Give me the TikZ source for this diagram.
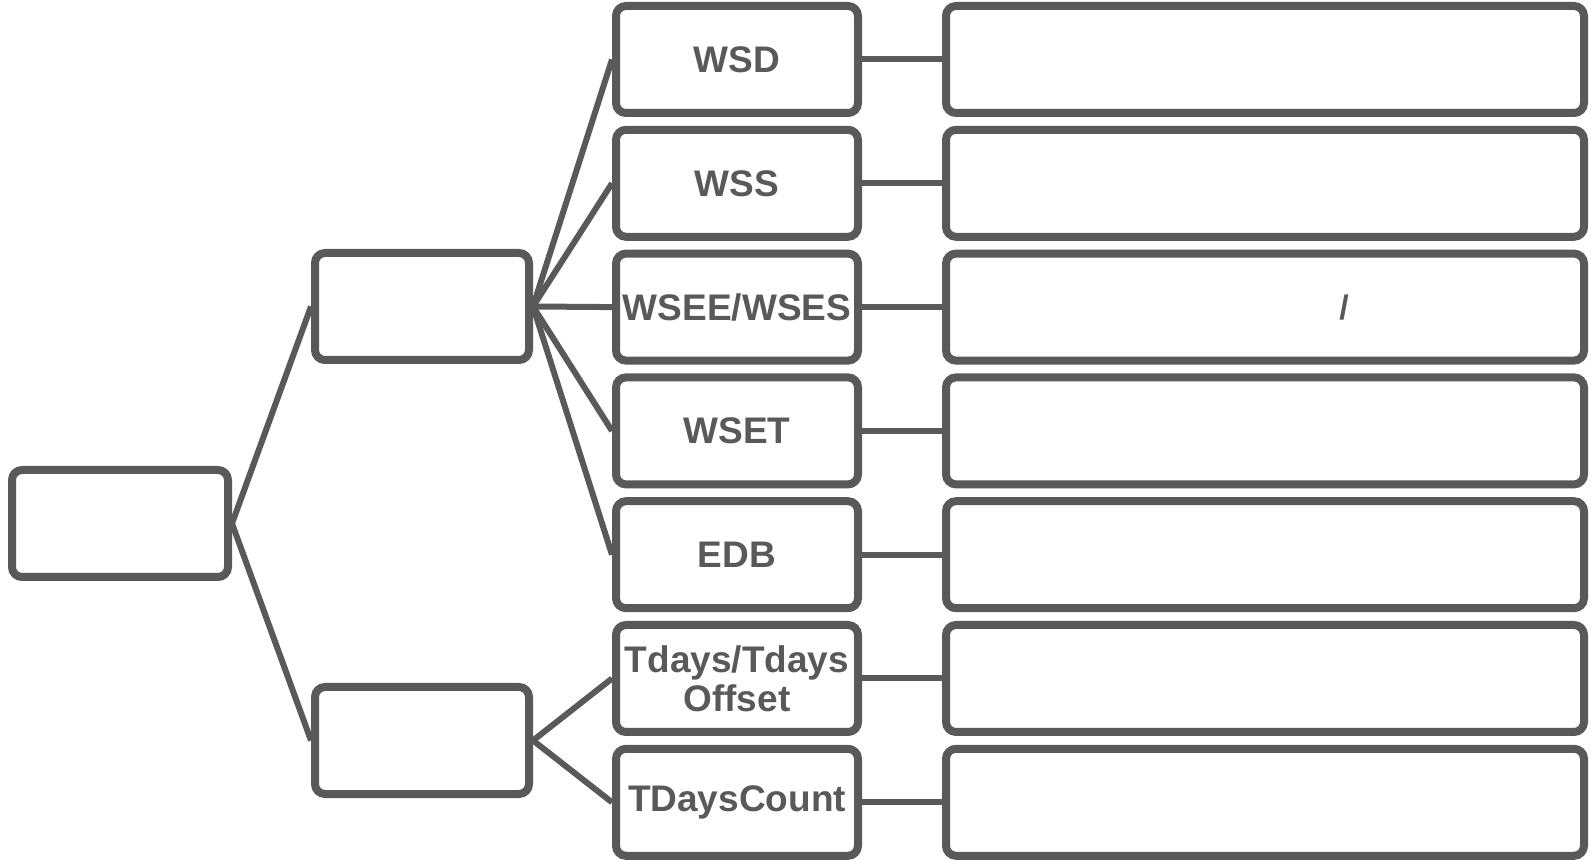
\documentclass[tikz,border=0pt]{standalone}
\usepackage{fontspec}
\setmainfont{Liberation Sans}
\definecolor{boxgray}{HTML}{595959}

\begin{document}
\begin{tikzpicture}[x=0.5pt, y=-0.5pt,
		box/.style={draw=boxgray, line width=4pt, rounded corners=5pt, minimum height=53.5pt, inner sep=0pt,
			text=boxgray, align=center, font=\fontsize{18.5}{19.5}\selectfont\bfseries},
		link/.style={draw=boxgray, line width=3pt}]
			\useasboundingbox (0,0) rectangle (1591,860);

			\node[box, minimum width=108pt] (wind) at (120, 523.5) {};
			\node[box, minimum width=107pt] (data) at (422, 306.5) {};
			\node[box, minimum width=107pt] (date) at (422, 740.5) {};

			\node[box, minimum width=121pt] (f1) at (737, 59.5)  {WSD};
			\node[box, minimum width=121pt] (f2) at (737, 183.3) {WSS};
			\node[box, minimum width=121pt] (f3) at (737, 307.1) {WSEE/WSES};
			\node[box, minimum width=121pt] (f4) at (737, 430.9) {WSET};
			\node[box, minimum width=121pt] (f5) at (737, 554.7) {EDB};
			\node[box, minimum width=121pt] (f6) at (737, 678.5) {Tdays/Tdays\\Offset};
			\node[box, minimum width=121pt] (f7) at (737, 802.3) {TDaysCount};

			\node[box, minimum width=319pt] (n1) at (1265, 59.5)  {};
			\node[box, minimum width=319pt] (n2) at (1265, 183.3) {};
			\node[box, minimum width=319pt] (n3) at (1265, 307.1) {};
			\node[box, minimum width=319pt] (n4) at (1265, 430.9) {};
			\node[box, minimum width=319pt] (n5) at (1265, 554.7) {};
			\node[box, minimum width=319pt] (n6) at (1265, 678.5) {};
			\node[box, minimum width=319pt] (n7) at (1265, 802.3) {};
			\node[text=boxgray, font=\fontsize{17}{17}\selectfont\bfseries, anchor=base, inner sep=0pt] (sep3) at (1344, 320) {/};

			\path (wind.east) edge[link] (data.west);
			\path (wind.east) edge[link] (date.west);

			\path (data.east) edge[link] (f1.west);
			\path (data.east) edge[link] (f2.west);
			\path (data.east) edge[link] (f3.west);
			\path (data.east) edge[link] (f4.west);
			\path (data.east) edge[link] (f5.west);
			\path (date.east) edge[link] (f6.west);
			\path (date.east) edge[link] (f7.west);

			\path (f1) edge[link] (n1);
			\path (f2) edge[link] (n2);
			\path (f3) edge[link] (n3);
			\path (f4) edge[link] (n4);
			\path (f5) edge[link] (n5);
			\path (f6) edge[link] (n6);
			\path (f7) edge[link] (n7);

		\end{tikzpicture}
\end{document}
